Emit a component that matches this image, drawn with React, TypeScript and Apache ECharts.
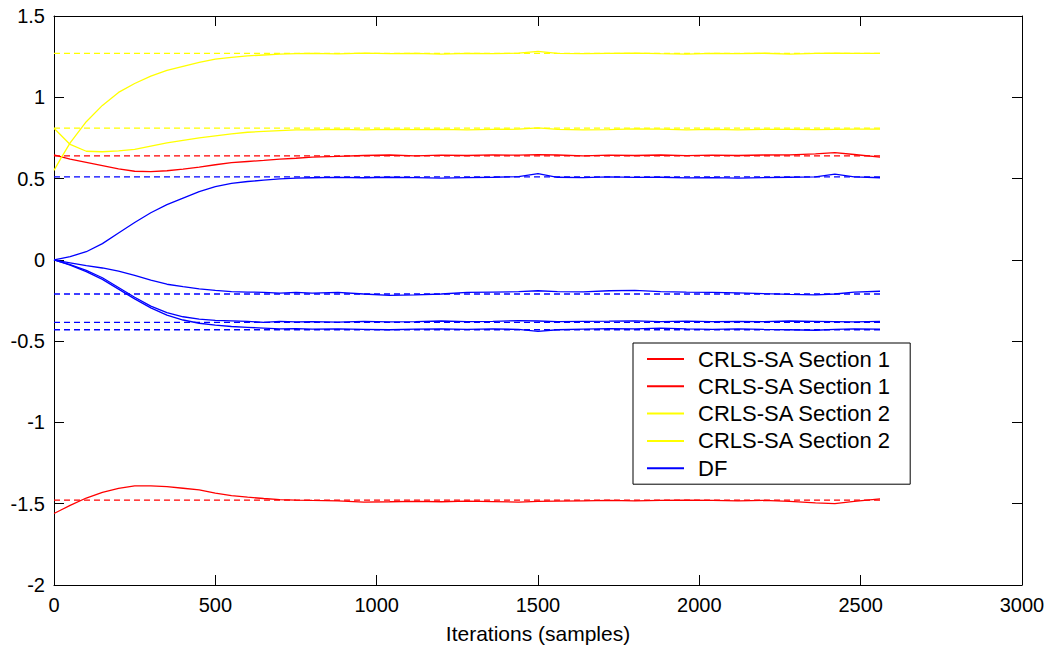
import React, { useEffect, useRef } from "react";
import * as echarts from "echarts";

const ITER = [0, 20, 50, 100, 150, 200, 250, 300, 350, 400, 450, 500, 550, 600, 650, 700, 750, 800,
  880, 960, 1040, 1120, 1200, 1280, 1360, 1440, 1500, 1560, 1640, 1720, 1800, 1880, 1960, 2040,
  2120, 2200, 2280, 2360, 2420, 2480, 2560];

// CRLS-SA Section 1 (red)
const RED_1 = [0.645, 0.635, 0.62, 0.6, 0.58, 0.56, 0.545, 0.543, 0.548, 0.558, 0.57, 0.585, 0.598,
  0.605, 0.612, 0.62, 0.625, 0.632, 0.636, 0.642, 0.645, 0.64, 0.644, 0.642, 0.646, 0.644, 0.647,
  0.645, 0.64, 0.644, 0.642, 0.645, 0.641, 0.644, 0.642, 0.645, 0.646, 0.652, 0.66, 0.648, 0.632];
const RED_2 = [-1.56, -1.54, -1.51, -1.465, -1.43, -1.405, -1.39, -1.39, -1.395, -1.405, -1.415,
  -1.435, -1.45, -1.46, -1.468, -1.475, -1.478, -1.48, -1.482, -1.49, -1.488, -1.485, -1.488,
  -1.484, -1.487, -1.49, -1.486, -1.484, -1.482, -1.48, -1.482, -1.48, -1.478, -1.48, -1.482,
  -1.48, -1.485, -1.495, -1.5, -1.485, -1.47];

// CRLS-SA Section 2 (yellow)
const YEL_1 = [0.55, 0.62, 0.72, 0.85, 0.95, 1.03, 1.085, 1.13, 1.165, 1.19, 1.215, 1.235, 1.245,
  1.255, 1.26, 1.265, 1.268, 1.27, 1.267, 1.272, 1.268, 1.27, 1.266, 1.27, 1.268, 1.272, 1.282,
  1.27, 1.268, 1.27, 1.272, 1.268, 1.266, 1.27, 1.268, 1.271, 1.266, 1.27, 1.272, 1.27, 1.27];
const YEL_2 = [0.81, 0.77, 0.71, 0.668, 0.665, 0.67, 0.68, 0.7, 0.72, 0.735, 0.75, 0.763, 0.775,
  0.785, 0.79, 0.795, 0.8, 0.8, 0.802, 0.8, 0.803, 0.801, 0.803, 0.8, 0.802, 0.804, 0.812, 0.803,
  0.8, 0.801, 0.806, 0.804, 0.8, 0.803, 0.8, 0.802, 0.803, 0.801, 0.803, 0.804, 0.804];

// DF (blue)
const BLUE_1 = [0, 0.008, 0.02, 0.05, 0.1, 0.165, 0.23, 0.29, 0.34, 0.38, 0.42, 0.45, 0.47, 0.482,
  0.49, 0.498, 0.503, 0.505, 0.507, 0.505, 0.508, 0.506, 0.503, 0.506, 0.508, 0.512, 0.53, 0.508,
  0.506, 0.51, 0.507, 0.508, 0.504, 0.506, 0.503, 0.506, 0.508, 0.51, 0.528, 0.51, 0.505];
const BLUE_2 = [0, -0.008, -0.018, -0.035, -0.05, -0.07, -0.095, -0.125, -0.15, -0.165, -0.178,
  -0.188, -0.195, -0.198, -0.2, -0.205, -0.2, -0.205, -0.2, -0.21, -0.218, -0.215, -0.21, -0.2,
  -0.198, -0.196, -0.19, -0.196, -0.197, -0.19, -0.188, -0.195, -0.198, -0.2, -0.203, -0.208,
  -0.212, -0.215, -0.21, -0.198, -0.193];
const BLUE_3 = [0, -0.012, -0.03, -0.065, -0.11, -0.17, -0.23, -0.285, -0.325, -0.35, -0.365,
  -0.372, -0.375, -0.378, -0.385, -0.378, -0.382, -0.38, -0.383, -0.378, -0.382, -0.38, -0.376,
  -0.38, -0.378, -0.374, -0.376, -0.38, -0.378, -0.377, -0.375, -0.38, -0.377, -0.38, -0.379,
  -0.38, -0.376, -0.378, -0.38, -0.382, -0.378];
const BLUE_4 = [0, -0.013, -0.033, -0.072, -0.12, -0.18, -0.24, -0.295, -0.34, -0.37, -0.39,
  -0.402, -0.41, -0.415, -0.42, -0.425, -0.423, -0.426, -0.424, -0.427, -0.43, -0.426, -0.424,
  -0.428, -0.425, -0.428, -0.44, -0.43, -0.426, -0.423, -0.425, -0.42, -0.424, -0.427, -0.425,
  -0.428, -0.43, -0.433, -0.428, -0.425, -0.426];

// True (target) values, drawn dashed
const TARGET_RED = [0.64, -1.478];
const TARGET_YEL = [1.27, 0.81];
const TARGET_BLUE = [0.51, -0.21, -0.385, -0.43];

const X_TICKS = { min: 0, max: 3000, interval: 500 };
const Y_TICKS = { min: -2, max: 1.5, interval: 0.5 };

const LEGEND_LABELS: Record<string, string> = {
  r1: "CRLS-SA Section 1",
  r2: "CRLS-SA Section 1",
  y1: "CRLS-SA Section 2",
  y2: "CRLS-SA Section 2",
  b1: "DF",
};

const RED = "#ff0000";
const YELLOW = "#ffff00";
const BLUE = "#0000ff";
const FONT = "'Liberation Sans', Arial, sans-serif";

const pairs = (ys: number[]) => ITER.map((x, i) => [x, ys[i]]);

export default function App() {
  const ref = useRef<HTMLDivElement>(null);

  useEffect(() => {
    if (!ref.current) return;
    const chart = echarts.init(ref.current, undefined, { renderer: "svg" });

    const lastIter = ITER[ITER.length - 1];
    const dashed = (v: number, color: string, idx: number) => ({
      name: "target" + idx,
      type: "line",
      data: [[ITER[0], v], [lastIter, v]],
      symbol: "none",
      lineStyle: { color, width: 1.3, type: [6, 4] },
      itemStyle: { color },
      silent: true,
      z: 1,
    });
    const solid = (name: string, ys: number[], color: string) => ({
      name,
      type: "line",
      data: pairs(ys),
      symbol: "none",
      lineStyle: { color, width: 1.3 },
      itemStyle: { color },
      z: 2,
    });

    const targets = [
      ...TARGET_RED.map((v, i) => dashed(v, RED, i)),
      ...TARGET_YEL.map((v, i) => dashed(v, YELLOW, 10 + i)),
      ...TARGET_BLUE.map((v, i) => dashed(v, BLUE, 20 + i)),
    ];

    const axisCommon = {
      axisLine: { show: true, onZero: false, lineStyle: { color: "#000", width: 1 } },
      axisTick: { show: true, inside: true, length: 10, lineStyle: { color: "#000" } },
      splitLine: { show: false },
    };
    const plain = (v: number) => String(v);

    chart.setOption({
      animation: false,
      backgroundColor: "#fff",
      textStyle: { fontFamily: FONT },
      grid: { left: 54, right: 26, top: 16, bottom: 66 },
      legend: {
        data: ["r1", "r2", "y1", "y2", "b1"],
        formatter: (n: string) => LEGEND_LABELS[n],
        orient: "vertical",
        left: 633,
        top: 343,
        icon: "rect",
        itemWidth: 37,
        itemHeight: 2,
        itemGap: 5.3,
        padding: [5, 19, 5, 14],
        backgroundColor: "#fff",
        borderColor: "#000",
        borderWidth: 1,
        borderRadius: 0,
        selectedMode: false,
        textStyle: { fontSize: 22, color: "#000", fontFamily: FONT, padding: [0, 0, 0, 9], lineHeight: 21 },
      },
      xAxis: [
        {
          type: "value",
          ...X_TICKS,
          position: "bottom",
          ...axisCommon,
          axisLabel: { color: "#000", fontSize: 20, margin: 10, fontFamily: FONT, formatter: plain },
          name: "Iterations (samples)",
          nameLocation: "middle",
          nameGap: 38,
          nameTextStyle: { color: "#000", fontSize: 21, fontFamily: FONT },
        },
        {
          type: "value",
          ...X_TICKS,
          position: "top",
          ...axisCommon,
          axisLabel: { show: false },
        },
      ],
      yAxis: [
        {
          type: "value",
          ...Y_TICKS,
          position: "left",
          ...axisCommon,
          axisLabel: { color: "#000", fontSize: 20, margin: 9, fontFamily: FONT, formatter: plain },
        },
        {
          type: "value",
          ...Y_TICKS,
          position: "right",
          ...axisCommon,
          axisLabel: { show: false },
        },
      ],
      series: [
        ...targets,
        solid("r1", RED_1, RED),
        solid("r2", RED_2, RED),
        solid("y1", YEL_1, YELLOW),
        solid("y2", YEL_2, YELLOW),
        solid("b1", BLUE_1, BLUE),
        solid("b2", BLUE_2, BLUE),
        solid("b3", BLUE_3, BLUE),
        solid("b4", BLUE_4, BLUE),
      ],
    });

    return () => chart.dispose();
  }, []);

  return (
    <div
      ref={ref}
      style={{ position: "fixed", left: 0, top: 0, width: 1048, height: 651, background: "#fff" }}
    />
  );
}
